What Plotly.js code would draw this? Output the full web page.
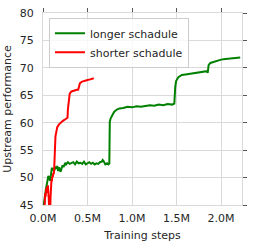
<!DOCTYPE html>
<html>
<head>
<meta charset="utf-8">
<script src="https://cdn.plot.ly/plotly-3.0.1.min.js"></script>
<style>html,body{margin:0;padding:0;background:#fff;}#chart{width:254px;height:250px;}</style>
</head>
<body>
<div id="chart"></div>
<script>
// Training steps in millions
var longerSteps = [0.0, 0.01, 0.02, 0.03, 0.04, 0.05, 0.06, 0.07, 0.08, 0.09, 0.10, 0.11, 0.12, 0.13, 0.14, 0.15, 0.16, 0.17, 0.18, 0.19, 0.20, 0.21, 0.22, 0.23, 0.24, 0.25, 0.26, 0.28, 0.30, 0.32, 0.34, 0.36, 0.38, 0.40, 0.42, 0.44, 0.46, 0.48, 0.50, 0.52, 0.54, 0.56, 0.58, 0.60, 0.62, 0.64, 0.66, 0.67, 0.68, 0.69, 0.70, 0.72, 0.735, 0.745, 0.75, 0.76, 0.78, 0.80, 0.83, 0.86, 0.90, 0.95, 1.00, 1.05, 1.10, 1.15, 1.20, 1.25, 1.30, 1.35, 1.40, 1.45, 1.475, 1.485, 1.495, 1.52, 1.56, 1.60, 1.65, 1.70, 1.75, 1.80, 1.84, 1.85, 1.86, 1.88, 1.92, 1.96, 2.00, 2.05, 2.10, 2.15, 2.215];
var longerPerf = [44.0, 45.5, 46.8, 47.6, 48.5, 49.8, 50.3, 50.0, 49.4, 50.6, 51.8, 51.3, 51.7, 51.4, 52.0, 51.6, 52.1, 51.2, 51.9, 51.3, 51.1, 51.8, 52.2, 51.9, 52.5, 52.7, 52.4, 52.8, 52.5, 52.6, 52.8, 52.4, 52.9, 52.6, 52.7, 52.5, 52.9, 52.4, 52.6, 52.8, 52.5, 52.7, 52.4, 52.6, 52.5, 52.8, 52.9, 53.2, 53.0, 52.6, 52.4, 52.6, 52.4, 52.6, 60.2, 60.8, 61.5, 62.0, 62.4, 62.6, 62.7, 62.9, 62.8, 63.0, 62.9, 63.1, 63.2, 63.1, 63.3, 63.2, 63.4, 63.3, 63.5, 66.5, 67.6, 68.3, 68.7, 68.8, 68.9, 69.0, 69.1, 69.2, 69.4, 69.1, 70.5, 70.9, 71.1, 71.3, 71.5, 71.6, 71.7, 71.8, 71.9];

var shorterSteps = [0.015, 0.02, 0.025, 0.03, 0.035, 0.04, 0.045, 0.05, 0.055, 0.06, 0.065, 0.07, 0.075, 0.08, 0.085, 0.09, 0.095, 0.10, 0.105, 0.11, 0.115, 0.12, 0.125, 0.13, 0.135, 0.14, 0.15, 0.16, 0.18, 0.20, 0.22, 0.24, 0.26, 0.275, 0.28, 0.29, 0.30, 0.32, 0.35, 0.38, 0.395, 0.405, 0.415, 0.44, 0.47, 0.50, 0.53, 0.57];
var shorterPerf = [43.5, 45.5, 47.2, 46.5, 48.0, 47.2, 48.3, 47.6, 48.6, 47.8, 46.0, 44.0, 42.5, 43.5, 46.5, 48.5, 49.6, 49.3, 50.3, 50.1, 50.8, 50.6, 51.3, 52.6, 55.5, 57.5, 58.8, 59.2, 59.7, 60.1, 60.3, 60.5, 60.7, 60.9, 62.5, 64.6, 65.3, 65.7, 65.9, 66.0, 66.0, 66.8, 67.2, 67.5, 67.7, 67.8, 67.9, 68.1];

var xTickVals = [0, 0.5, 1.0, 1.5, 2.0];
var xTickText = ['0.0M', '0.5M', '1.0M', '1.5M', '2.0M'];
var yTickVals = [45, 50, 55, 60, 65, 70, 75, 80];

var xRange = [0, 2.235];
var yRange = [45, 80];
var font = {family: 'DejaVu Sans', size: 11, color: '#262626'};

var traces = [
  {x: longerSteps, y: longerPerf, type: 'scatter', mode: 'lines', name: 'longer schadule',
   line: {color: '#008000', width: 2}},
  {x: shorterSteps, y: shorterPerf, type: 'scatter', mode: 'lines', name: 'shorter schadule',
   line: {color: '#ff0000', width: 2}},
  {x: [], y: [], xaxis: 'x2', yaxis: 'y2', showlegend: false, hoverinfo: 'skip'}
];

var layout = {
  width: 254, height: 250,
  margin: {l: 43, r: 12, t: 13, b: 45, pad: 0},
  paper_bgcolor: '#ffffff', plot_bgcolor: '#ffffff',
  font: font,
  showlegend: true,
  legend: {x: 0.03, y: 0.975, xanchor: 'left', yanchor: 'top',
           bgcolor: 'rgba(255,255,255,0.8)', bordercolor: '#cccccc', borderwidth: 1,
           font: font},
  xaxis: {range: xRange, tickvals: xTickVals, ticktext: xTickText,
          ticks: 'outside', ticklen: 3, tickcolor: 'rgba(0,0,0,0)',
          showgrid: true, gridcolor: '#dadada', gridwidth: 1, zeroline: false,
          showline: true, linecolor: '#dadada', linewidth: 1, mirror: true,
          tickfont: font, title: {text: 'Training steps', font: font, standoff: 7}},
  yaxis: {range: yRange, tickvals: yTickVals,
          ticks: 'outside', ticklen: 6, tickcolor: 'rgba(0,0,0,0)',
          showgrid: true, gridcolor: '#dadada', gridwidth: 1, zeroline: false,
          showline: true, linecolor: '#dadada', linewidth: 1, mirror: true,
          tickfont: font, title: {text: 'Upstream performance', font: font}},
  xaxis2: {overlaying: 'x', side: 'top', anchor: 'y', range: xRange, tickvals: xTickVals,
           ticks: 'outside', ticklen: 4, tickwidth: 1, tickcolor: '#555555',
           showticklabels: false, showgrid: false, zeroline: false, showline: false},
  yaxis2: {overlaying: 'y', side: 'right', anchor: 'x', range: yRange, tickvals: yTickVals,
           ticks: 'outside', ticklen: 4, tickwidth: 1, tickcolor: '#555555',
           showticklabels: false, showgrid: false, zeroline: false, showline: false}
};

Plotly.newPlot('chart', traces, layout, {staticPlot: true, displayModeBar: false});
</script>
</body>
</html>
